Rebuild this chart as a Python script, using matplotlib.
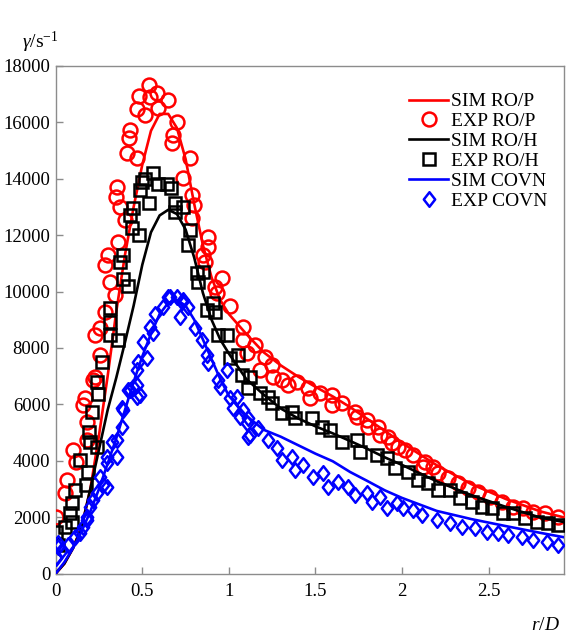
import matplotlib
matplotlib.use("Agg")
import matplotlib.pyplot as plt
from matplotlib.path import Path

plt.rcParams['font.family'] = ['Liberation Serif', 'DejaVu Serif']
plt.rcParams['mathtext.fontset'] = 'custom'
plt.rcParams['mathtext.rm'] = 'Liberation Serif'
plt.rcParams['mathtext.it'] = 'Liberation Serif:italic'

# ---- simulated shear-rate profiles (r/D, 1/s) ----
sim_x = [0, 0.05, 0.1, 0.15, 0.2, 0.25, 0.3, 0.35, 0.4, 0.45, 0.5, 0.55, 0.6, 0.65,
         0.7, 0.75, 0.8, 0.85, 0.9, 0.95, 1.0, 1.1, 1.2, 1.3, 1.4, 1.5, 1.6, 1.7,
         1.8, 1.9, 2.0, 2.2, 2.4, 2.6, 2.8, 2.94]
sim_rop = [0, 350, 900, 1650, 3000, 4900, 7000, 9300, 11300, 13000, 14500, 15700,
           16300, 16300, 15800, 14700, 13100, 11650, 10500, 9700, 9200, 8500, 7850,
           7380, 6980, 6620, 6280, 5900, 5480, 5060, 4630, 3840, 3170, 2640, 2200, 1980]
sim_roh = [0, 350, 900, 1650, 3000, 4400, 5800, 6950, 8200, 9500, 10950, 12100,
           12700, 12900, 12750, 12200, 11200, 9950, 9000, 8300, 7800, 6900, 6350,
           5850, 5500, 5220, 4970, 4700, 4420, 4120, 3850, 3270, 2780, 2360, 1980, 1820]
sim_covn = [0, 400, 900, 1500, 2200, 3000, 3900, 4800, 5800, 6800, 7700, 8500,
            9200, 9600, 9700, 9500, 9000, 8300, 7600, 6900, 6300, 5600, 5100,
            4850, 4550, 4250, 3980, 3600, 3280, 2950, 2680, 2220, 1930, 1680, 1440, 1280]

# ---- measured shear-rate profiles ----
exp_rop_x = [0.0, 0.054, 0.063, 0.098, 0.12, 0.16, 0.169, 0.179, 0.179, 0.217,
             0.227, 0.256, 0.227, 0.256, 0.285, 0.342, 0.313, 0.285, 0.304, 0.361,
             0.40, 0.371, 0.348, 0.352, 0.413, 0.468, 0.425, 0.429, 0.468, 0.516,
             0.483, 0.544, 0.54, 0.587, 0.592, 0.647, 0.699, 0.675, 0.67, 0.775,
             0.733, 0.785, 0.799, 0.785, 0.881, 0.881, 0.852, 0.862, 0.958, 0.92,
             0.929, 1.006, 1.083, 1.083, 1.103, 1.151, 1.208, 1.18, 1.247, 1.256,
             1.305, 1.343, 1.391, 1.458, 1.468, 1.526, 1.593, 1.593, 1.651, 1.728,
             1.738, 1.796, 1.805, 1.863, 1.872, 1.92, 1.94, 1.978, 2.017, 2.065,
             2.132, 2.122, 2.18, 2.21, 2.267, 2.325, 2.382, 2.44, 2.508, 2.575,
             2.642, 2.70, 2.757, 2.825, 2.902]
exp_rop_y = [2010, 2840, 3320, 4380, 3960, 5980, 6210, 5380, 4730, 6860,
             6980, 7750, 8460, 8700, 9280, 9880, 10350, 10940, 11290, 11770,
             12540, 13010, 13360, 13720, 14900, 14720, 15430, 15730, 16460, 16260,
             16930, 16910, 17320, 17030, 16500, 16790, 16020, 15550, 15260, 14720,
             14010, 13420, 13070, 12600, 11940, 11590, 11290, 11060, 10470, 10170,
             9940, 9490, 8750, 8280, 7810, 8100, 7690, 7220, 7390, 6980,
             6860, 6680, 6800, 6570, 6210, 6390, 6330, 5980, 6040, 5740,
             5560, 5440, 5210, 5210, 4910, 4850, 4620, 4500, 4380, 4200,
             3960, 3790, 3790, 3580, 3380, 3200, 3020, 2900, 2720, 2550,
             2370, 2310, 2190, 2130, 2010]

exp_roh_x = [0.002, 0.015, 0.054, 0.083, 0.092, 0.092, 0.111, 0.14, 0.175, 0.188,
             0.194, 0.198, 0.208, 0.237, 0.237, 0.246, 0.265, 0.313, 0.313, 0.313,
             0.361, 0.371, 0.39, 0.39, 0.419, 0.429, 0.439, 0.448, 0.483, 0.487,
             0.497, 0.516, 0.54, 0.56, 0.592, 0.64, 0.664, 0.689, 0.689, 0.737,
             0.775, 0.766, 0.814, 0.852, 0.823, 0.872, 0.91, 0.92, 0.939, 0.987,
             1.006, 1.054, 1.074, 1.112, 1.122, 1.18, 1.228, 1.247, 1.305, 1.363,
             1.382, 1.478, 1.536, 1.584, 1.651, 1.738, 1.757, 1.853, 1.911, 1.959,
             2.036, 2.093, 2.151, 2.209, 2.277, 2.334, 2.402, 2.46, 2.517, 2.584,
             2.642, 2.71, 2.777, 2.844, 2.902]
exp_roh_y = [1480, 1010, 1660, 2130, 1840, 2490, 2960, 4020, 3140, 3610,
             5030, 4670, 5720, 4500, 6800, 6370, 7510, 8460, 8930, 9400,
             8280, 11060, 11290, 10430, 10200, 12710, 12240, 12950, 12000, 13600,
             13890, 13980, 13150, 14210, 13810, 13810, 13680, 13130, 12830, 13010,
             12180, 11650, 10650, 10700, 10350, 9340, 9580, 9280, 8460, 8460,
             7630, 7750, 7040, 6570, 6980, 6390, 6270, 6040, 5680, 5740,
             5500, 5500, 5210, 5090, 4670, 4730, 4320, 4200, 4090, 3730,
             3610, 3320, 3200, 2960, 2960, 2670, 2550, 2370, 2310, 2130,
             2130, 1960, 1840, 1780, 1720]

exp_covn_x = [0.0, 0.0, 0.015, 0.015, 0.035, 0.073, 0.111, 0.14, 0.159, 0.179,
              0.179, 0.198, 0.217, 0.237, 0.256, 0.275, 0.294, 0.294, 0.294, 0.323,
              0.352, 0.352, 0.381, 0.381, 0.39, 0.419, 0.429, 0.448, 0.467, 0.468,
              0.468, 0.477, 0.487, 0.506, 0.525, 0.545, 0.564, 0.573, 0.621, 0.65,
              0.66, 0.699, 0.727, 0.737, 0.766, 0.718, 0.804, 0.843, 0.872, 0.881,
              0.939, 0.949, 0.987, 1.006, 1.045, 1.025, 1.064, 1.083, 1.103, 1.112,
              1.112, 1.122, 1.17, 1.228, 1.276, 1.305, 1.363, 1.382, 1.43, 1.487,
              1.545, 1.574, 1.632, 1.689, 1.728, 1.796, 1.824, 1.872, 1.911, 1.969,
              2.007, 2.065, 2.113, 2.2, 2.277, 2.344, 2.421, 2.488, 2.555, 2.613,
              2.69, 2.757, 2.835, 2.902]
exp_covn_y = [540, 600, 950, 1070, 830, 1010, 1300, 1430, 1660, 1900,
              2010, 2370, 2610, 2840, 3430, 3140, 3080, 3910, 4140, 4670,
              4140, 4730, 5210, 5860, 5800, 6510, 6510, 6620, 6680, 6270,
              7220, 7510, 6330, 8220, 7630, 8750, 8520, 9220, 9460, 9820,
              9820, 9820, 9640, 9700, 9460, 9110, 8700, 8280, 7750, 7450,
              6860, 6620, 7220, 6210, 6270, 5860, 5560, 5800, 5330, 5500,
              4850, 4910, 5150, 4730, 4440, 4020, 4140, 3670, 3850, 3430,
              3550, 3080, 3260, 3080, 2780, 2840, 2550, 2720, 2310, 2490,
              2310, 2250, 2070, 1900, 1780, 1660, 1600, 1480, 1430, 1370,
              1300, 1190, 1130, 1010]

y_ticks = [0, 2000, 4000, 6000, 8000, 10000, 12000, 14000, 16000, 18000]
x_ticks = [0, 0.5, 1, 1.5, 2, 2.5]
x_tick_labels = ['0', '0.5', '1', '1.5', '2', '2.5']

RED, BLACK, BLUE = '#ff0000', '#000000', '#0000ff'
SPINE = '#8c8c8c'

# slightly tall diamond outline for the COVN measurements
diamond = Path([(0, 1), (0.78, 0), (0, -1), (-0.78, 0), (0, 1)],
               [Path.MOVETO, Path.LINETO, Path.LINETO, Path.LINETO, Path.CLOSEPOLY])

fig = plt.figure(figsize=(5.66, 6.40), dpi=100)
ax = fig.add_axes([55.7 / 566, 1 - 573.5 / 640, (564 - 55.7) / 566, (573.5 - 66) / 640])

lw = 1.9
mew = 1.8
ax.plot(sim_x, sim_rop, color=RED, lw=lw, label='SIM RO/P', zorder=3)
ax.plot(exp_rop_x, exp_rop_y, ls='none', marker='o', ms=10, mfc='none', mec=RED,
        mew=mew, label='EXP RO/P', zorder=3)
ax.plot(sim_x, sim_roh, color=BLACK, lw=lw, label='SIM RO/H', zorder=4)
ax.plot(exp_roh_x, exp_roh_y, ls='none', marker='s', ms=8.3, mfc='none', mec=BLACK,
        mew=mew, label='EXP RO/H', zorder=4)
ax.plot(sim_x, sim_covn, color=BLUE, lw=lw, label='SIM COVN', zorder=5)
ax.plot(exp_covn_x, exp_covn_y, ls='none', marker=diamond, ms=10.5, mfc='none', mec=BLUE,
        mew=mew, label='EXP COVN', zorder=5)

ax.set_xlim(0, 2.935)
ax.set_ylim(0, 18000)
ax.set_xticks(x_ticks)
ax.set_xticklabels(x_tick_labels)
ax.set_yticks(y_ticks)

for side in ['left', 'bottom', 'right', 'top']:
    ax.spines[side].set_color(SPINE)
    ax.spines[side].set_linewidth(1.0)
ax.tick_params(direction='in', length=5, width=1.0, color=SPINE, labelsize=13.5,
               labelcolor='black', top=False, right=False)
ax.tick_params(axis='x', pad=7)
ax.tick_params(axis='y', pad=4)

leg = ax.legend(loc='upper right', bbox_to_anchor=(0.975, 0.955), frameon=False,
                fontsize=14, handlelength=2.0, handletextpad=0.15,
                labelspacing=0.12, borderpad=0.2, borderaxespad=0.0)

fig.text(22 / 566, 1 - 42 / 640, r'$\it{\gamma}$/s$^{-1}$', fontsize=14, va='center', ha='left')
fig.text(560 / 566, 1 - 625 / 640, r'$\it{r}$/$\it{D}$', fontsize=14, va='center', ha='right')

fig.savefig('out.png', dpi=100)
